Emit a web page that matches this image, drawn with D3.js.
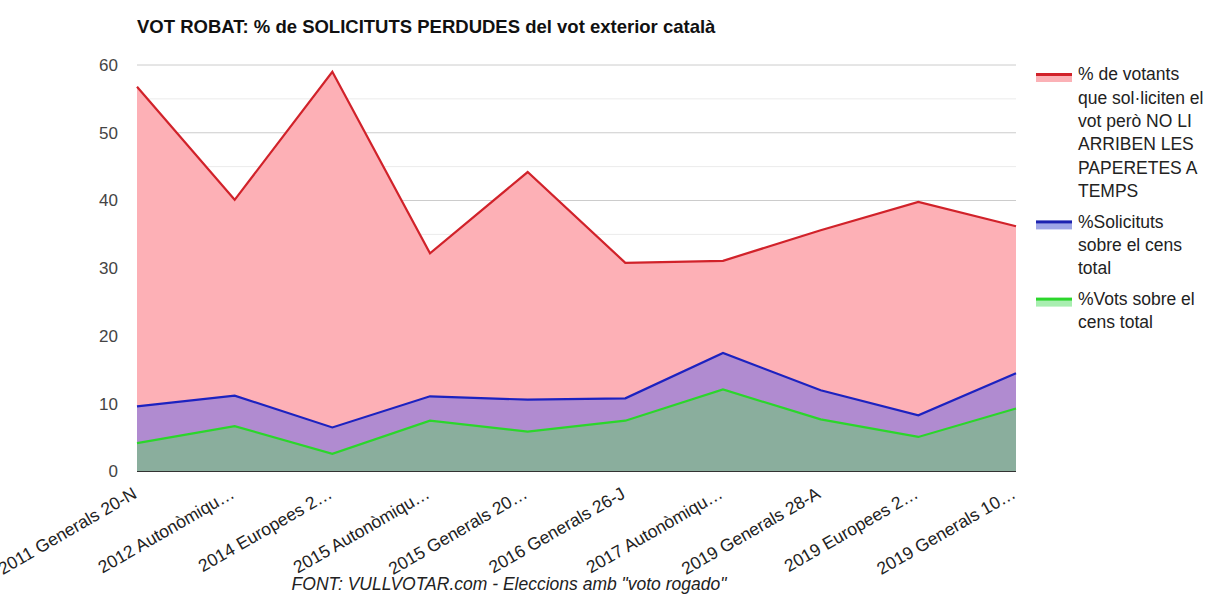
<!DOCTYPE html>
<html><head><meta charset="utf-8">
<script src="https://cdn.jsdelivr.net/npm/d3@7"></script>
<style>
body{margin:0;background:#fff;}
svg{display:block;font-family:Arial,"Liberation Sans",sans-serif;}
</style></head>
<body><svg id="c" width="1212" height="595"></svg>
<script>
const categories = ["2011 Generals 20-N","2012 Autonòmiqu…","2014 Europees 2…","2015 Autonòmiqu…","2015 Generals 20…","2016 Generals 26-J","2017 Autonòmiqu…","2019 Generals 28-A","2019 Europees 2…","2019 Generals 10…"];
const perdudes = [56.8,40.1,59.0,32.2,44.2,30.8,31.1,35.6,39.8,36.2];
const solicituds = [9.6,11.2,6.5,11.1,10.6,10.8,17.5,12.0,8.3,14.5];
const vots = [4.2,6.7,2.6,7.5,5.9,7.5,12.1,7.7,5.1,9.3];
const yTicks = [0,10,20,30,40,50,60];
const minorTicks = [5,15,25,35,45,55];
const legendItems = [
  {lines:["% de votants","que sol·liciten el","vot però NO LI","ARRIBEN LES","PAPERETES A","TEMPS"], stroke:"#d1222a", fill:"#fbb1b6"},
  {lines:["%Solicituts","sobre el cens","total"], stroke:"#1c22b0", fill:"#9fa6e6"},
  {lines:["%Vots sobre el","cens total"], stroke:"#2bd62b", fill:"#a8eeb0"}
];
const title = "VOT ROBAT: % de SOLICITUTS PERDUDES del vot exterior català";
const footer = "FONT: VULLVOTAR.com - Eleccions amb \"voto rogado\"";

const svg = d3.select("#c");
const L = 137, R = 1016, T = 65, B = 471.5;
const x = d3.scalePoint().domain(categories).range([L, R]);
const y = d3.scaleLinear().domain([0, 60]).range([B, T]);

// gridlines
svg.append("g").selectAll("line").data(minorTicks).join("line")
  .attr("x1", L).attr("x2", R).attr("y1", d => y(d)).attr("y2", d => y(d))
  .attr("stroke", "#ebebeb").attr("stroke-width", 1);
svg.append("g").selectAll("line").data(yTicks.filter(d => d > 0)).join("line")
  .attr("x1", L).attr("x2", R).attr("y1", d => y(d)).attr("y2", d => y(d))
  .attr("stroke", "#cccccc").attr("stroke-width", 1);

const series = [
  {vals: perdudes, fill: "#fdb0b6", stroke: "#d1222a"},
  {vals: solicituds, fill: "#b08bd0", stroke: "#1c22c0"},
  {vals: vots, fill: "#8aae9d", stroke: "#2bd62b"}
];
const area = d3.area().x((d, i) => x(categories[i])).y0(y(0)).y1(d => y(d));
const line = d3.line().x((d, i) => x(categories[i])).y(d => y(d));
series.forEach(s => {
  svg.append("path").datum(s.vals).attr("d", area).attr("fill", s.fill);
});
series.forEach(s => {
  svg.append("path").datum(s.vals).attr("d", line).attr("fill", "none")
    .attr("stroke", s.stroke).attr("stroke-width", 2.2).attr("stroke-linejoin", "miter");
});

// baseline
svg.append("line").attr("x1", L).attr("x2", R).attr("y1", y(0)).attr("y2", y(0))
  .attr("stroke", "#333").attr("stroke-width", 1.2);

// y labels
svg.append("g").selectAll("text").data(yTicks).join("text")
  .attr("x", 118).attr("y", d => y(d)).attr("dy", "0.35em")
  .attr("text-anchor", "end").attr("font-size", 17).attr("fill", "#444")
  .text(d => d);

// x labels
svg.append("g").selectAll("text").data(categories).join("text")
  .attr("transform", d => `translate(${x(d) + 1},${497}) rotate(-30)`)
  .attr("text-anchor", "end").attr("font-size", 17.5).attr("fill", "#222")
  .text(d => d);

// title
svg.append("text").attr("x", 137).attr("y", 33).attr("font-size", 18.5).attr("font-weight", "bold")
  .attr("fill", "#111").text(title);

// footer
svg.append("text").attr("x", 509).attr("y", 590).attr("text-anchor", "middle")
  .attr("font-size", 17.5).attr("font-style", "italic").attr("fill", "#222").text(footer);

// legend
const lh = 23.4;
let ly = 74;
legendItems.forEach(it => {
  const g = svg.append("g");
  g.append("rect").attr("x", 1036).attr("y", ly).attr("width", 36).attr("height", 8).attr("fill", it.fill);
  g.append("rect").attr("x", 1036).attr("y", ly - 1).attr("width", 36).attr("height", 3).attr("fill", it.stroke);
  it.lines.forEach((t, j) => {
    g.append("text").attr("x", 1078).attr("y", ly + j * lh).attr("dy", "0.35em")
      .attr("font-size", 17.5).attr("fill", "#222").text(t);
  });
  ly += it.lines.length * lh + 7;
});
</script></body></html>
